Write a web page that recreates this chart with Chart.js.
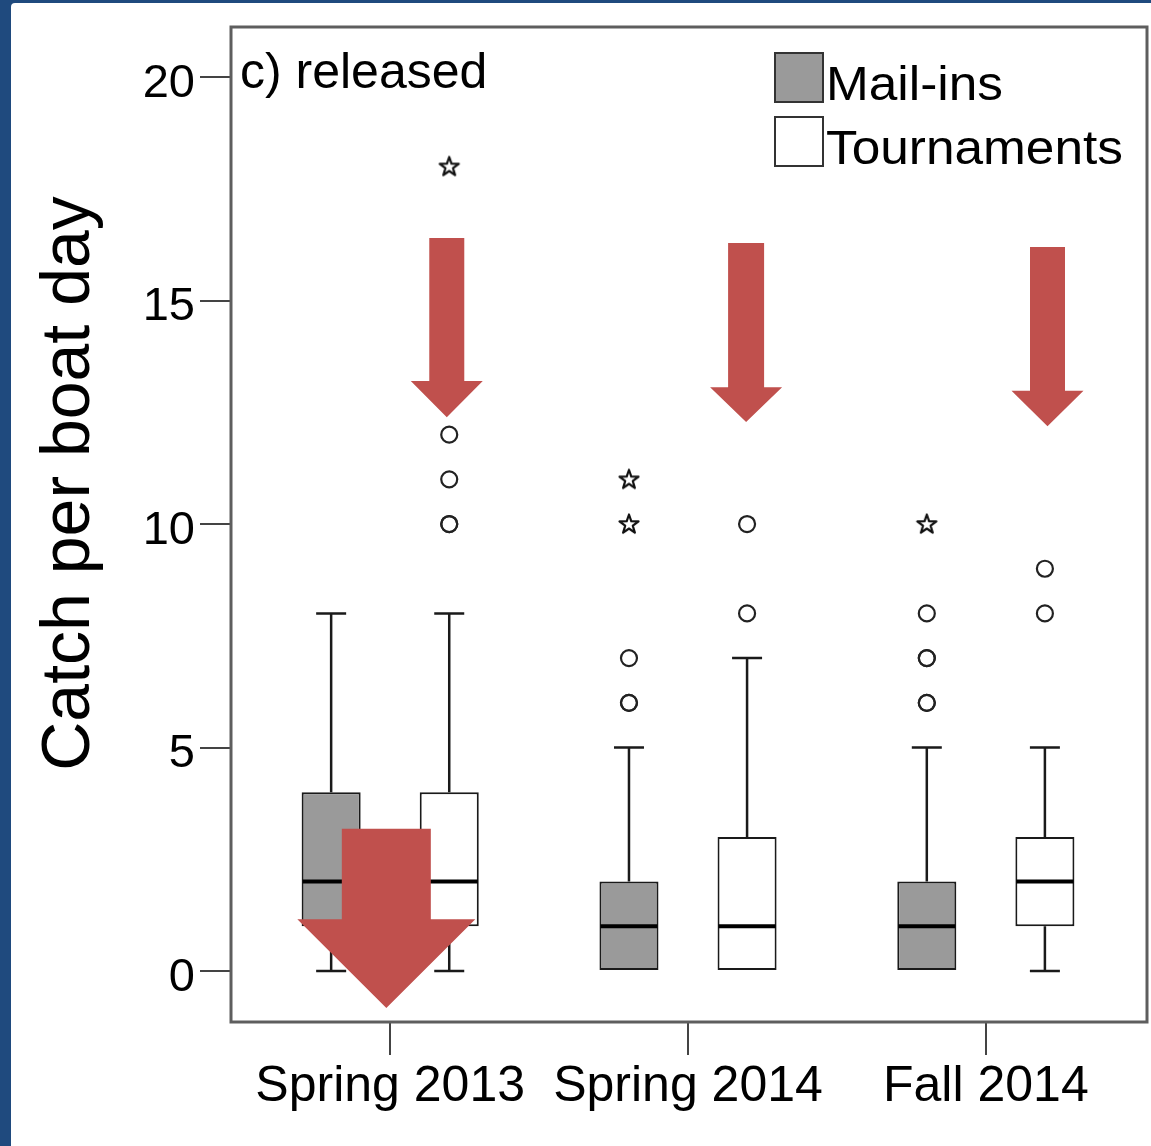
<!DOCTYPE html>
<html>
<head>
<meta charset="utf-8">
<title>c) released</title>
<script src="https://cdn.jsdelivr.net/npm/chart.js@4.4.0/dist/chart.umd.min.js"></script>
<style>
    html, body { margin: 0; padding: 0; }
    body { background: #1f4a7e; width: 1151px; height: 1146px; overflow: hidden; position: relative; }
    #wrap { position: absolute; left: 11px; top: 3px; width: 1140px; height: 1143px; background: #fff; border-top-left-radius: 4px; }
    canvas { display: block; }
</style>
</head>
<body>
<div id="wrap"><canvas id="releasedChart" width="1140" height="1143"></canvas></div>
<script>
// Categories and tick labels
const categories = ['Spring 2013', 'Spring 2014', 'Fall 2014'];
const yTicks = [0, 5, 10, 15, 20];
const seriesNames = ['Mail-ins', 'Tournaments'];

// Mail-ins box stats
const mailMin = [0, 0, 0];
const mailQ1 = [1, 0, 0];
const mailMedian = [2, 1, 1];
const mailQ3 = [4, 2, 2];
const mailMax = [8, 5, 5];
const mailOutliers = [[], [6, 6, 7], [6, 6, 7, 7, 8]];
const mailExtremes = [[], [10, 11], [10]];

// Tournaments box stats
const tourMin = [0, 0, 0];
const tourQ1 = [1, 0, 1];
const tourMedian = [2, 1, 2];
const tourQ3 = [4, 3, 3];
const tourMax = [8, 7, 5];
const tourOutliers = [[10, 10, 11, 12], [8, 10], [8, 9]];
const tourExtremes = [[18], [], []];

// Red arrows (x in category units, y in data units)
const arrows = [
    { x: -0.013, top: 3.18, base: 1.16, tip: -0.83, shaft: 89, head: 178 },
    { x: 0.19, top: 16.4, base: 13.2, tip: 12.39, shaft: 35, head: 72 },
    { x: 1.195, top: 16.29, base: 13.06, tip: 12.28, shaft: 36, head: 72 },
    { x: 2.207, top: 16.2, base: 12.98, tip: 12.19, shaft: 35, head: 72 }
];

document.addEventListener("DOMContentLoaded", function() {
    const ctx = document.getElementById('releasedChart').getContext('2d');
    const FONT = "'Liberation Sans', Arial, sans-serif";
    const CAT_PCT = 0.793;
    const SHIFT = CAT_PCT / 4; // offset of each box from the category centre
    const GRAY = '#9a9a9a';

    // Star marker for extreme values
    const star = document.createElement('canvas');
    star.width = 26; star.height = 26;
    const sctx = star.getContext('2d');
    sctx.beginPath();
    for (let i = 0; i < 10; i++) {
        const r = i % 2 === 0 ? 10 : 4;
        const a = -Math.PI / 2 + i * Math.PI / 5;
        const px = 13 + r * Math.cos(a), py = 13.5 + r * Math.sin(a);
        if (i === 0) sctx.moveTo(px, py); else sctx.lineTo(px, py);
    }
    sctx.closePath();
    sctx.lineWidth = 2.2;
    sctx.lineJoin = 'round';
    sctx.strokeStyle = '#111';
    sctx.stroke();

    function boxData(q1, q3) {
        return q1.map((v, i) => ({ x: i, y: [v, q3[i]] }));
    }

    function pointsData(lists, side) {
        const pts = [];
        lists.forEach((vals, i) => vals.forEach(v => pts.push({ x: i + side * SHIFT, y: v })));
        return pts;
    }

    // Whiskers, medians, arrows, frame, legend and labels
    const extras = {
        id: 'extras',
        afterDatasetsDraw(chart) {
            const c = chart.ctx;
            const ys = chart.scales.y;
            const groups = [
                { meta: chart.getDatasetMeta(0), min: mailMin, q1: mailQ1, med: mailMedian, q3: mailQ3, max: mailMax },
                { meta: chart.getDatasetMeta(1), min: tourMin, q1: tourQ1, med: tourMedian, q3: tourQ3, max: tourMax }
            ];
            c.save();
            groups.forEach(g => {
                g.meta.data.forEach((bar, i) => {
                    const cx = bar.x;
                    c.strokeStyle = '#1a1a1a';
                    c.lineWidth = 2.5;
                    c.beginPath();
                    if (g.max[i] > g.q3[i]) {
                        c.moveTo(cx, ys.getPixelForValue(g.q3[i]));
                        c.lineTo(cx, ys.getPixelForValue(g.max[i]));
                        c.moveTo(cx - 15, ys.getPixelForValue(g.max[i]));
                        c.lineTo(cx + 15, ys.getPixelForValue(g.max[i]));
                    }
                    if (g.min[i] < g.q1[i]) {
                        c.moveTo(cx, ys.getPixelForValue(g.q1[i]));
                        c.lineTo(cx, ys.getPixelForValue(g.min[i]));
                        c.moveTo(cx - 15, ys.getPixelForValue(g.min[i]));
                        c.lineTo(cx + 15, ys.getPixelForValue(g.min[i]));
                    }
                    c.stroke();
                    // median
                    c.lineWidth = 4;
                    c.strokeStyle = '#000';
                    c.beginPath();
                    c.moveTo(cx - bar.width / 2 + 1, ys.getPixelForValue(g.med[i]));
                    c.lineTo(cx + bar.width / 2 - 1, ys.getPixelForValue(g.med[i]));
                    c.stroke();
                });
            });
            c.restore();
        },
        afterDraw(chart) {
            const c = chart.ctx;
            const xs = chart.scales.x, ys = chart.scales.y;
            const area = chart.chartArea;
            c.save();

            // arrows
            c.fillStyle = '#c0504d';
            arrows.forEach(a => {
                const cx = xs.getPixelForValue(a.x);
                const top = ys.getPixelForValue(a.top);
                const base = ys.getPixelForValue(a.base);
                const tip = ys.getPixelForValue(a.tip);
                c.beginPath();
                c.moveTo(cx - a.shaft / 2, top);
                c.lineTo(cx + a.shaft / 2, top);
                c.lineTo(cx + a.shaft / 2, base);
                c.lineTo(cx + a.head / 2, base);
                c.lineTo(cx, tip);
                c.lineTo(cx - a.head / 2, base);
                c.lineTo(cx - a.shaft / 2, base);
                c.closePath();
                c.fill();
            });

            // plot frame
            c.strokeStyle = '#5e5e5e';
            c.lineWidth = 3;
            c.strokeRect(area.left, area.top, area.right - area.left - 4, area.bottom - area.top);

            // panel label
            c.fillStyle = '#000';
            c.font = '50px ' + FONT;
            c.textAlign = 'left';
            c.textBaseline = 'alphabetic';
            c.fillText('c) released', area.left + 9, area.top + 61);

            // legend
            const lx = area.right - 376;
            c.font = '48px ' + FONT;
            [GRAY, '#fff'].forEach((col, i) => {
                const ly = area.top + 26 + i * 64;
                c.fillStyle = col;
                c.fillRect(lx, ly, 48, 49);
                c.strokeStyle = '#333';
                c.lineWidth = 2;
                c.strokeRect(lx, ly, 48, 49);
                c.fillStyle = '#000';
                c.save();
                c.translate(lx + 51, ly + 47);
                c.scale(1.07, 1);
                c.fillText(seriesNames[i], 0, 0);
                c.restore();
            });

            // y axis title
            c.translate(78, (area.top + area.bottom) / 2 - 41);
            c.rotate(-Math.PI / 2);
            c.font = '68px ' + FONT;
            c.textAlign = 'center';
            c.fillText('Catch per boat day', 0, 0);
            c.restore();
        }
    };

    new Chart(ctx, {
        type: 'bar',
        data: {
            datasets: [
                {
                    label: seriesNames[0],
                    data: boxData(mailQ1, mailQ3),
                    backgroundColor: GRAY,
                    borderColor: '#1a1a1a',
                    borderWidth: 2,
                    borderSkipped: false,
                    categoryPercentage: CAT_PCT,
                    barPercentage: 0.5
                },
                {
                    label: seriesNames[1],
                    data: boxData(tourQ1, tourQ3),
                    backgroundColor: '#fff',
                    borderColor: '#1a1a1a',
                    borderWidth: 2,
                    borderSkipped: false,
                    categoryPercentage: CAT_PCT,
                    barPercentage: 0.5
                },
                {
                    type: 'scatter',
                    label: 'outliers',
                    data: pointsData(mailOutliers, -1).concat(pointsData(tourOutliers, 1)),
                    pointStyle: 'circle',
                    pointRadius: 8,
                    borderWidth: 2.2,
                    borderColor: '#222',
                    backgroundColor: 'rgba(255,255,255,0)'
                },
                {
                    type: 'scatter',
                    label: 'extremes',
                    data: pointsData(mailExtremes, -1).concat(pointsData(tourExtremes, 1)),
                    pointStyle: star,
                    pointRadius: 9
                }
            ]
        },
        options: {
            responsive: false,
            animation: false,
            layout: { autoPadding: false, padding: { top: 24, right: 0, left: 0, bottom: 0 } },
            plugins: {
                legend: { display: false },
                tooltip: { enabled: false }
            },
            scales: {
                x: {
                    type: 'linear',
                    offset: false,
                    min: -0.5345,
                    max: 2.5545,
                    afterBuildTicks: scale => { scale.ticks = categories.map((c, i) => ({ value: i })); },
                    afterFit: scale => {
                        scale.height = 124;
                        scale.paddingLeft = 0;
                        scale.paddingRight = 0;
                    },
                    grid: { offset: false, drawOnChartArea: false, drawTicks: true, tickLength: 33, color: '#444', lineWidth: 2 },
                    border: { display: false },
                    ticks: {
                        callback: value => categories[value],
                        font: { family: FONT, size: 50 },
                        color: '#000',
                        padding: 2,
                        maxRotation: 0,
                        autoSkip: false
                    }
                },
                y: {
                    min: -1.141,
                    max: 21.12,
                    afterBuildTicks: scale => { scale.ticks = yTicks.map(v => ({ value: v })); },
                    afterFit: scale => {
                        scale.width = 220;
                        scale.paddingTop = 0;
                        scale.paddingBottom = 0;
                    },
                    grid: { drawOnChartArea: false, drawTicks: true, tickLength: 31, color: '#444', lineWidth: 2 },
                    border: { display: false },
                    ticks: {
                        font: { family: FONT, size: 47 },
                        color: '#000',
                        padding: 5,
                        labelOffset: 7
                    }
                }
            }
        },
        plugins: [extras]
    });
});
</script>
</body>
</html>
